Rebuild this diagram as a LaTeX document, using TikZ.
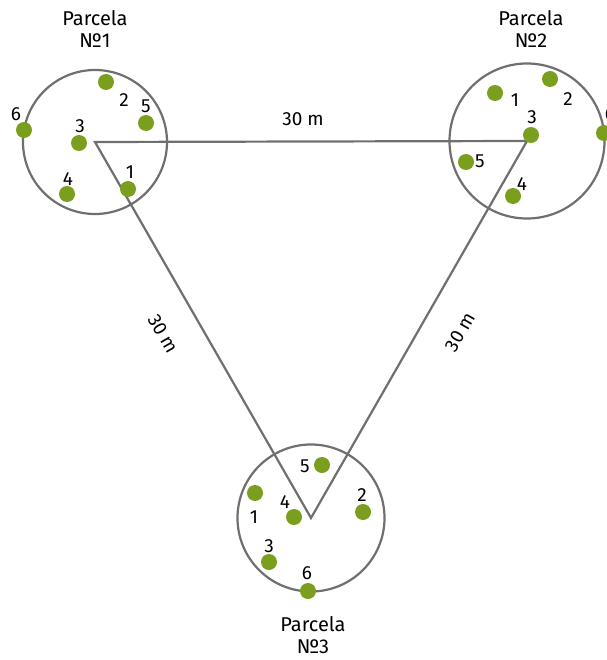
\documentclass[tikz,border=0pt]{standalone}
\usepackage{fontspec}
\setmainfont{Fira Sans}
\definecolor{linegray}{HTML}{6F6F6F}
\definecolor{dotgreen}{HTML}{7A9F1E}
\begin{document}
\begin{tikzpicture}[x=1pt,y=-1pt,
  plot/.style={circle,draw=linegray,line width=2.2pt,inner sep=0pt},
  tree/.style={circle,fill=dotgreen,inner sep=0pt,minimum size=16pt},
  lbl/.style={inner sep=0pt,font=\fontsize{19}{21}\selectfont},
  ttl/.style={inner sep=0pt,align=center,font=\fontsize{20}{22}\selectfont},
  side/.style={draw=linegray,line width=2.2pt,line join=miter}]
\useasboundingbox (0,0) rectangle (606,660);
% plots
\node[plot,minimum size=144pt] (c1) at (95,142) {};
\node[plot,minimum size=155pt] (c2) at (527,141) {};
\node[plot,minimum size=147pt] (c3) at (311,518) {};
% triangle
\draw[side] (c1.center) -- (c2.center) -- (c3.center) -- cycle;
% titles
\node[ttl] (t1) at (95,29) {Parcela\\№1};
\node[ttl] (t2) at (531,29) {Parcela\\№2};
\node[ttl] (t3) at (313,635) {Parcela\\№3};
% distances
\node[lbl] (d12) at (303,119) {30 m};
\node[lbl,rotate=-60] (d13) at (163,334) {30 m};
\node[lbl,rotate=60] (d23) at (460,332) {30 m};
% plot 1 trees
\node[tree] (a1) at (128,189) {};
\node[tree] (a2) at (106,82) {};
\node[tree] (a3) at (79,143) {};
\node[tree] (a4) at (67,194) {};
\node[tree] (a5) at (146,123) {};
\node[tree] (a6) at (24,130) {};
\node[lbl] (la1) at (130,172) {1};
\node[lbl] (la2) at (124,100) {2};
\node[lbl] (la3) at (80,126) {3};
\node[lbl] (la4) at (68,179) {4};
\node[lbl] (la5) at (146,106) {5};
\node[lbl] (la6) at (16,114) {6};
% plot 2 trees
\node[tree] (b1) at (495,93) {};
\node[tree] (b2) at (550,79) {};
\node[tree] (b3) at (531,135) {};
\node[tree] (b4) at (513,196) {};
\node[tree] (b5) at (466,162) {};
\node[tree] (b6) at (604,133) {};
\node[lbl] (lb1) at (515,100) {1};
\node[lbl] (lb2) at (568,99) {2};
\node[lbl] (lb3) at (532,117) {3};
\node[lbl] (lb4) at (522,184) {4};
\node[lbl] (lb5) at (480,161) {5};
\node[lbl] (lb6) at (610,114) {6};
% plot 3 trees
\node[tree] (e1) at (255,493) {};
\node[tree] (e2) at (363,512) {};
\node[tree] (e3) at (269,562) {};
\node[tree] (e4) at (294,517) {};
\node[tree] (e5) at (322,465) {};
\node[tree] (e6) at (308,591) {};
\node[lbl] (le1) at (254,517) {1};
\node[lbl] (le2) at (362,495) {2};
\node[lbl] (le3) at (269,546) {3};
\node[lbl] (le4) at (285,502) {4};
\node[lbl] (le5) at (305,466) {5};
\node[lbl] (le6) at (307,573) {6};
\end{tikzpicture}
\end{document}
